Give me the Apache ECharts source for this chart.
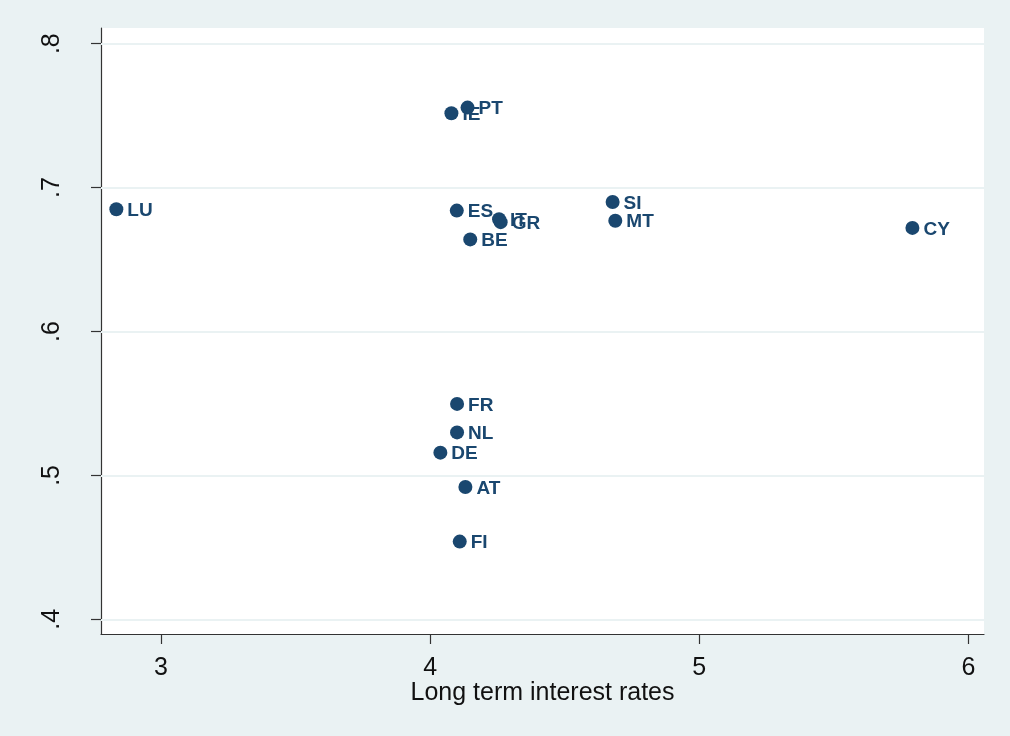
<!DOCTYPE html>
<html>
<head>
<meta charset="utf-8">
<script src="https://cdn.jsdelivr.net/npm/echarts@6/dist/echarts.min.js"></script>
<style>
html,body{margin:0;padding:0;background:#eaf2f3;}
#chart{width:1010px;height:736px;}
</style>
</head>
<body>
<div id="chart"></div>
<script>
const countries = ['LU','PT','IE','ES','IT','GR','BE','SI','MT','CY','FR','NL','DE','AT','FI'];
const interestRates = [2.834, 4.139, 4.079, 4.099, 4.256, 4.262, 4.149, 4.678, 4.688, 5.792, 4.100, 4.100, 4.038, 4.131, 4.110];
const yValues = [0.685, 0.7556, 0.7517, 0.684, 0.678, 0.676, 0.664, 0.690, 0.677, 0.672, 0.5497, 0.5299, 0.5158, 0.4919, 0.454];
const xTicks = [3, 4, 5, 6];
const yTicks = [0.4, 0.5, 0.6, 0.7, 0.8];
const xTitle = 'Long term interest rates';

const FONT = "'Liberation Sans', Arial, sans-serif";
const navy = '#1a476f';
const data = countries.map((c, i) => ({ name: c, value: [interestRates[i], yValues[i]] }));

const chart = echarts.init(document.getElementById('chart'), null, { renderer: 'canvas' });
chart.setOption({
  backgroundColor: '#eaf2f3',
  animation: false,
  grid: { left: 101, top: 28, right: 26, bottom: 102, show: true, backgroundColor: '#ffffff', borderWidth: 0, containLabel: false },
  xAxis: {
    type: 'value', min: 2.777, max: 6.058,
    name: xTitle, nameLocation: 'middle', nameGap: 47, nameMoveOverlap: false,
    nameTextStyle: { fontFamily: FONT, fontSize: 25, color: '#111' },
    axisLine: { show: true, onZero: false, lineStyle: { color: '#333', width: 1.2 } },
    axisTick: { show: true, length: 10, customValues: xTicks, lineStyle: { color: '#333', width: 1.2 } },
    axisLabel: { customValues: xTicks, margin: 22, fontFamily: FONT, fontSize: 25, color: '#111', formatter: v => String(v) },
    splitLine: { show: false }
  },
  yAxis: {
    type: 'value', min: 0.3898, max: 0.8109,
    axisLine: { show: true, onZero: false, lineStyle: { color: '#333', width: 1.2 } },
    axisTick: { show: true, length: 10, customValues: yTicks, lineStyle: { color: '#333', width: 1.2 } },
    axisLabel: { customValues: yTicks, rotate: 90, margin: 36, fontFamily: FONT, fontSize: 25, color: '#111',
      formatter: v => v.toFixed(1).replace(/^0/, '') },
    splitLine: { show: false }
  },
  series: [{
    type: 'scatter',
    data: data,
    symbol: 'circle',
    symbolSize: 14,
    itemStyle: { color: navy, opacity: 1 },
    label: { show: true, position: 'right', distance: 4, offset: [0, 1.5], formatter: '{b}', fontFamily: FONT, fontWeight: 'bold', fontSize: 19, color: navy },
    markLine: {
      silent: true, symbol: 'none', animation: false, z: 1,
      label: { show: false },
      lineStyle: { color: '#eaf2f3', width: 2, type: 'solid' },
      data: yTicks.map(v => ({ yAxis: v }))
    },
    z: 3
  }]
});
</script>
</body>
</html>
